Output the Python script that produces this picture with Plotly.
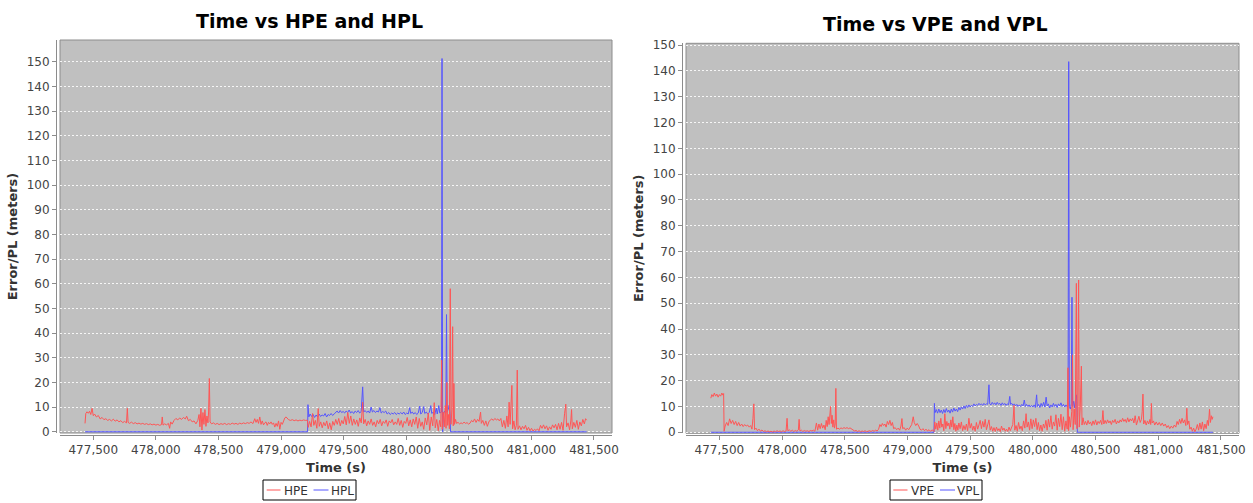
import plotly.graph_objects as go

W, H = 1253, 503

# ---------------- data ----------------
hpe_t = [477434, 477440, 477450, 477460, 477470, 477480, 477490, 477500, 477510, 477525,
         477540, 477555, 477570, 477585, 477600, 477615, 477630, 477645, 477660, 477675,
         477690, 477705, 477720, 477735, 477750, 477765, 477772, 477778, 477790, 477805,
         477820, 477835, 477850, 477865, 477880, 477895, 477910, 477925, 477940, 477955,
         477970, 477985, 478000, 478015, 478030, 478045, 478051, 478057, 478070, 478085,
         478100, 478110, 478118, 478130, 478145, 478160, 478175, 478190, 478205, 478220,
         478235, 478246, 478260, 478275, 478290, 478305, 478320, 478335, 478345, 478352,
         478360, 478368, 478376, 478384, 478392, 478400, 478408, 478416, 478421, 478427,
         478433, 478445, 478460, 478475, 478490, 478505, 478520, 478535, 478550, 478565,
         478580, 478595, 478610, 478625, 478640, 478655, 478670, 478685, 478700, 478715,
         478730, 478745, 478760, 478775, 478790, 478800, 478810, 478820, 478830, 478840,
         478850, 478860, 478870, 478880, 478890, 478900, 478910, 478920, 478930, 478940,
         478950, 478960, 478970, 478980, 478990, 479000, 479010, 479020, 479030, 479040,
         479050, 479060, 479075, 479090, 479105, 479120, 479135, 479150, 479165, 479180,
         479195, 479210, 479217, 479228, 479240, 479252, 479262, 479274, 479286, 479297,
         479305, 479317, 479329, 479341, 479353, 479365, 479377, 479389, 479401, 479413,
         479425, 479437, 479449, 479461, 479473, 479485, 479497, 479509, 479521, 479533,
         479545, 479557, 479569, 479581, 479593, 479605, 479617, 479629, 479641, 479652,
         479660, 479672, 479684, 479696, 479708, 479720, 479732, 479744, 479756, 479768,
         479780, 479792, 479804, 479816, 479828, 479840, 479852, 479864, 479876, 479888,
         479900, 479912, 479924, 479936, 479948, 479960, 479972, 479984, 479996, 480008,
         480020, 480032, 480044, 480056, 480068, 480080, 480092, 480104, 480116, 480128,
         480140, 480152, 480164, 480176, 480188, 480200, 480212, 480224, 480232, 480244,
         480256, 480266, 480276, 480283, 480288, 480296, 480304, 480312, 480318, 480325,
         480331, 480338, 480345, 480352, 480358, 480365, 480371, 480376, 480381, 480386,
         480394, 480402, 480414, 480426, 480438, 480450, 480462, 480474, 480486, 480498,
         480510, 480522, 480534, 480546, 480558, 480570, 480582, 480594, 480600, 480612,
         480624, 480636, 480648, 480660, 480672, 480684, 480696, 480708, 480720, 480732,
         480744, 480756, 480768, 480780, 480792, 480804, 480814, 480822, 480830, 480836,
         480844, 480850, 480860, 480870, 480880, 480887, 480893, 480905, 480917, 480929,
         480941, 480953, 480965, 480977, 480989, 481001, 481013, 481025, 481037, 481049,
         481061, 481073, 481085, 481097, 481109, 481121, 481133, 481145, 481157, 481169,
         481181, 481193, 481205, 481217, 481229, 481241, 481253, 481265, 481275, 481281,
         481293, 481305, 481315, 481321, 481327, 481339, 481351, 481363, 481375, 481387,
         481399, 481411, 481423, 481433, 481441]
hpe_v = [3.4, 7.4, 8.1, 7.5, 8.3, 7.0, 9.5, 6.5, 7.2, 6.0,
         6.6, 5.2, 5.8, 4.9, 5.3, 4.6, 5.0, 4.4, 5.1, 4.3,
         4.8, 4.0, 4.5, 3.7, 4.2, 3.6, 9.5, 3.8, 3.4, 3.9,
         3.3, 3.7, 3.2, 3.5, 3.1, 3.4, 3.0, 3.3, 2.9, 3.2,
         2.8, 3.1, 2.7, 3.0, 2.6, 2.9, 6.0, 2.7, 3.2, 2.8,
         3.4, 1.4, 4.0, 3.1, 4.6, 5.4, 4.8, 5.6, 5.0, 5.8,
         5.2, 6.3, 4.5, 5.0, 4.0, 4.4, 3.2, 4.6, 7.0, 2.0,
         9.5, 0.7, 7.8, 3.0, 9.0, 2.2, 6.4, 3.6, 8.0, 21.6,
         4.0, 3.2, 3.6, 3.0, 3.4, 2.9, 3.3, 3.0, 3.4, 2.9,
         3.3, 3.0, 3.5, 3.1, 3.4, 3.0, 3.5, 3.2, 3.6, 3.3,
         3.7, 3.4, 4.0, 3.3, 5.3, 3.8, 5.0, 3.4, 6.0, 3.0,
         4.4, 2.8, 3.6, 4.0, 2.6, 3.8, 3.2, 4.0, 3.0, 3.6,
         1.9, 3.4, 2.2, 4.4, 1.0, 3.8, 3.0, 4.8, 5.6, 6.0,
         5.4, 4.9, 4.6, 4.9, 4.5, 4.8, 4.4, 4.7, 4.5, 4.8,
         4.6, 4.7, 1.8, 4.2, 2.0, 7.4, 2.6, 4.6, 1.4, 9.4,
         2.2, 4.0, 1.6, 3.8, 2.4, 4.4, 1.2, 3.6, 0.8, 4.2,
         2.6, 5.0, 3.0, 5.4, 2.4, 4.6, 3.2, 6.2, 2.8, 7.8,
         3.4, 6.4, 2.6, 5.2, 3.0, 4.8, 2.2, 5.6, 3.6, 12.0,
         3.2, 5.0, 2.4, 4.4, 3.0, 5.2, 2.6, 4.0, 2.0, 4.6,
         3.2, 5.0, 2.4, 4.2, 3.4, 4.8, 2.2, 4.4, 3.6, 5.0,
         2.8, 4.0, 3.0, 5.4, 2.6, 4.6, 1.8, 4.2, 3.4, 5.8,
         2.4, 4.8, 2.0, 5.2, 3.0, 6.0, 1.4, 5.4, 2.2, 4.0,
         1.0, 5.6, 2.8, 7.6, 0.6, 6.0, 2.4, 11.8, 1.6, 5.0,
         0.4, 4.6, 2.0, 29.0, 1.0, 8.0, 2.0, 10.6, 1.4, 20.0,
         2.6, 7.0, 1.2, 58.0, 3.0, 9.0, 42.6, 2.4, 19.6, 3.0,
         5.0, 3.4, 3.8, 3.2, 3.6, 3.3, 3.9, 3.4, 3.7, 3.1,
         3.5, 4.6, 4.0, 5.2, 3.8, 5.0, 4.2, 8.0, 3.4, 4.6,
         2.6, 4.4, 2.2, 4.0, 4.8, 5.2, 4.6, 5.4, 4.8, 5.2,
         4.4, 5.4, 2.0, 4.6, 1.4, 6.4, 2.0, 12.0, 3.0, 8.0,
         18.8, 1.2, 4.4, 0.8, 2.6, 25.0, 1.0, 2.4, 0.8, 2.2,
         1.2, 2.6, 0.6, 1.8, 0.4, 1.4, 0.3, 1.0, 0.5, 1.2,
         0.4, 2.6, 1.4, 2.8, 1.2, 2.4, 0.6, 2.0, 1.0, 2.8,
         1.6, 3.0, 0.8, 3.4, 1.0, 3.8, 0.6, 7.3, 11.2, 2.0,
         3.6, 0.8, 4.4, 9.0, 1.2, 3.8, 1.8, 4.6, 1.0, 4.0,
         2.4, 5.0, 3.2, 5.3, 4.7]

hpl_t = [477434, 479212, 479215, 479222, 479232, 479244, 479256, 479268, 479280, 479292,
         479304, 479316, 479328, 479340, 479352, 479364, 479376, 479388, 479400, 479412,
         479424, 479436, 479448, 479460, 479472, 479484, 479496, 479508, 479520, 479532,
         479544, 479556, 479568, 479580, 479592, 479604, 479616, 479628, 479640, 479652,
         479660, 479672, 479684, 479696, 479708, 479720, 479730, 479742, 479754, 479766,
         479778, 479790, 479800, 479812, 479824, 479836, 479848, 479860, 479872, 479884,
         479896, 479908, 479920, 479932, 479944, 479956, 479968, 479980, 479992, 480004,
         480016, 480028, 480036, 480048, 480060, 480072, 480084, 480096, 480108, 480116,
         480128, 480140, 480148, 480160, 480172, 480184, 480196, 480204, 480216, 480228,
         480240, 480248, 480260, 480268, 480278, 480282, 480286, 480291, 480296, 480306,
         480316, 480322, 480327, 480336, 480344, 480350, 480354, 481441]
hpl_v = [0.0, 0.0, 11.0, 6.0, 7.2, 6.2, 7.0, 5.8, 6.8, 6.0,
         7.2, 6.2, 6.8, 6.4, 7.4, 6.0, 7.0, 6.6, 7.4, 6.6,
         7.2, 7.8, 8.4, 7.6, 8.6, 7.8, 8.2, 7.6, 8.4, 7.8,
         8.8, 7.6, 8.2, 7.4, 8.4, 7.8, 8.6, 7.6, 8.2, 18.2,
         8.0, 8.6, 7.8, 8.4, 7.6, 10.0, 8.0, 8.6, 7.8, 8.4,
         8.0, 9.8, 7.6, 8.2, 7.8, 8.4, 7.2, 7.8, 7.0, 7.6,
         7.2, 7.8, 7.0, 7.6, 7.2, 7.8, 7.2, 8.0, 7.0, 7.6,
         7.2, 9.8, 7.4, 8.0, 7.2, 7.8, 7.0, 7.6, 10.4, 7.2,
         7.8, 10.2, 7.4, 8.0, 7.2, 7.8, 10.6, 7.4, 8.0, 7.0,
         9.6, 7.2, 10.6, 7.6, 8.0, 8.0, 151.3, 0.0, 7.0, 8.4,
         7.6, 47.5, 8.0, 9.2, 10.8, 7.4, 0.0, 0.0]

vpe_t = [477432, 477440, 477450, 477460, 477470, 477480, 477490, 477500, 477510, 477520,
         477528, 477534, 477538, 477546, 477558, 477570, 477582, 477594, 477606, 477618,
         477630, 477642, 477654, 477666, 477678, 477690, 477702, 477714, 477726, 477738,
         477750, 477760, 477768, 477775, 477781, 477792, 477804, 477816, 477828, 477840,
         477852, 477864, 477876, 477888, 477900, 477912, 477924, 477936, 477948, 477960,
         477972, 477984, 477996, 478008, 478020, 478032, 478040, 478046, 478058, 478070,
         478082, 478094, 478106, 478118, 478130, 478136, 478142, 478154, 478166, 478178,
         478190, 478202, 478214, 478226, 478238, 478250, 478262, 478274, 478284, 478294,
         478304, 478314, 478324, 478334, 478344, 478352, 478360, 478368, 478375, 478381,
         478387, 478393, 478399, 478405, 478412, 478418, 478424, 478429, 478434, 478446,
         478458, 478470, 478482, 478494, 478506, 478518, 478530, 478542, 478554, 478566,
         478578, 478590, 478602, 478614, 478626, 478638, 478650, 478662, 478674, 478686,
         478698, 478710, 478722, 478734, 478746, 478758, 478770, 478780, 478790, 478800,
         478810, 478820, 478830, 478840, 478850, 478860, 478870, 478880, 478890, 478902,
         478914, 478926, 478938, 478948, 478956, 478962, 478974, 478986, 478998, 479010,
         479022, 479034, 479046, 479054, 479066, 479078, 479090, 479100, 479112, 479124,
         479136, 479148, 479160, 479172, 479184, 479196, 479208, 479212, 479218, 479226,
         479234, 479242, 479250, 479258, 479266, 479274, 479282, 479290, 479298, 479306,
         479314, 479322, 479330, 479338, 479346, 479354, 479362, 479370, 479378, 479386,
         479394, 479402, 479410, 479420, 479430, 479440, 479450, 479460, 479470, 479480,
         479490, 479500, 479510, 479520, 479530, 479540, 479550, 479560, 479570, 479580,
         479590, 479600, 479610, 479620, 479630, 479640, 479650, 479660, 479670, 479680,
         479690, 479700, 479710, 479720, 479730, 479740, 479750, 479760, 479770, 479780,
         479790, 479800, 479810, 479820, 479830, 479840, 479850, 479856, 479866, 479876,
         479886, 479896, 479906, 479916, 479926, 479936, 479946, 479954, 479964, 479974,
         479984, 479994, 480004, 480014, 480024, 480034, 480044, 480054, 480064, 480074,
         480084, 480094, 480104, 480114, 480124, 480134, 480144, 480154, 480164, 480174,
         480184, 480194, 480204, 480214, 480224, 480234, 480244, 480254, 480264, 480274,
         480280, 480285, 480292, 480300, 480310, 480316, 480321, 480330, 480338, 480347,
         480352, 480358, 480365, 480370, 480378, 480387, 480392, 480400, 480410, 480420,
         480430, 480440, 480450, 480460, 480470, 480480, 480490, 480500, 480510, 480520,
         480530, 480540, 480550, 480559, 480566, 480576, 480586, 480596, 480606, 480616,
         480626, 480636, 480646, 480656, 480666, 480676, 480686, 480696, 480706, 480716,
         480726, 480736, 480746, 480756, 480766, 480776, 480786, 480796, 480806, 480816,
         480826, 480836, 480846, 480856, 480866, 480872, 480878, 480884, 480894, 480904,
         480914, 480924, 480934, 480940, 480945, 480951, 480962, 480972, 480984, 480996,
         481008, 481020, 481032, 481044, 481056, 481068, 481080, 481092, 481104, 481116,
         481128, 481140, 481150, 481160, 481170, 481180, 481190, 481200, 481210, 481220,
         481228, 481234, 481244, 481252, 481262, 481272, 481282, 481292, 481302, 481312,
         481322, 481332, 481342, 481352, 481362, 481372, 481382, 481392, 481400, 481409,
         481416, 481424, 481430, 481436]
vpe_v = [13.2, 14.6, 13.8, 15.2, 14.0, 14.8, 13.6, 14.6, 14.0, 15.2,
         14.4, 15.0, 0.4, 2.4, 3.8, 2.6, 5.2, 3.4, 4.6, 3.0,
         4.2, 2.6, 3.8, 2.4, 3.2, 2.2, 3.0, 2.4, 2.8, 2.0,
         2.6, 1.2, 5.4, 11.0, 1.0, 1.6, 0.6, 1.2, 0.4, 0.9,
         0.3, 0.6, 0.2, 0.5, 0.2, 0.4, 0.1, 0.5, 0.2, 0.6,
         0.3, 0.5, 0.2, 0.6, 0.3, 0.5, 5.4, 0.6, 0.9, 0.4,
         0.8, 0.3, 0.7, 0.4, 0.9, 5.0, 0.5, 0.8, 0.3, 0.7,
         0.4, 0.6, 0.3, 0.7, 0.5, 0.8, 0.4, 3.6, 0.8, 3.2,
         1.4, 3.4, 1.6, 2.8, 1.0, 4.6, 2.2, 6.0, 3.0, 7.4,
         10.0, 3.4, 6.6, 2.0, 4.8, 1.6, 3.2, 17.0, 1.2, 1.6,
         1.2, 1.7, 1.4, 1.8, 1.5, 1.8, 1.4, 1.7, 1.2, 1.0,
         0.5, 0.7, 0.3, 0.6, 0.2, 0.5, 0.3, 0.6, 0.2, 0.4,
         0.6, 0.3, 0.7, 0.4, 0.8, 0.5, 1.2, 3.0, 2.2, 3.4,
         2.6, 3.2, 2.0, 4.2, 3.0, 4.6, 2.6, 3.8, 1.4, 1.8,
         1.0, 1.6, 0.8, 2.4, 5.3, 1.4, 1.8, 0.8, 1.6, 1.0,
         2.2, 3.0, 6.0, 3.8, 2.6, 3.4, 2.4, 1.2, 0.8, 1.4,
         0.6, 1.2, 0.5, 1.0, 0.4, 0.9, 0.6, 0.3, 4.0, 1.2,
         3.6, 0.8, 4.4, 1.6, 5.4, 2.0, 3.2, 0.6, 7.2, 1.4,
         4.2, 2.4, 3.6, 1.2, 4.8, 2.0, 6.0, 1.0, 3.4, 0.4,
         2.8, 0.8, 3.6, 1.4, 4.0, 0.6, 2.6, 1.0, 3.2, 0.6,
         5.4, 1.6, 3.4, 0.8, 2.4, 0.4, 3.8, 1.2, 2.8, 4.6,
         1.4, 4.2, 2.0, 5.0, 1.0, 3.6, 4.8, 0.8, 2.2, 0.4,
         1.8, 0.3, 2.0, 0.6, 1.4, 0.2, 2.4, 0.8, 1.6, 0.4,
         1.2, 0.3, 2.0, 0.6, 1.8, 3.0, 10.4, 0.8, 2.6, 0.4,
         3.8, 1.2, 2.4, 0.6, 4.4, 1.6, 7.2, 2.0, 4.0, 0.8,
         5.2, 1.4, 4.8, 2.2, 5.4, 1.0, 3.8, 0.6, 2.8, 0.4,
         3.2, 1.6, 4.6, 0.8, 5.0, 2.0, 6.4, 1.2, 4.0, 2.4,
         6.8, 0.8, 5.4, 2.2, 7.0, 1.0, 6.0, 0.4, 4.4, 1.2,
         25.0, 0.6, 6.0, 2.0, 8.0, 30.0, 1.0, 9.0, 3.0, 57.7,
         1.4, 7.0, 59.0, 2.0, 9.6, 25.6, 2.8, 5.6, 3.0, 4.2,
         2.8, 4.6, 3.2, 4.0, 2.6, 4.4, 3.0, 4.8, 2.8, 4.2,
         3.4, 4.6, 3.0, 8.4, 3.2, 4.6, 3.4, 4.8, 3.6, 4.4,
         3.0, 4.6, 3.8, 5.0, 3.2, 4.4, 3.6, 4.8, 4.0, 5.4,
         4.2, 5.0, 3.8, 5.6, 4.0, 5.2, 4.4, 5.4, 3.6, 6.4,
         2.8, 4.6, 6.2, 3.8, 5.0, 8.0, 14.8, 3.2, 4.6, 2.8,
         4.4, 3.2, 5.0, 3.0, 11.2, 3.6, 4.4, 2.8, 4.0, 2.8,
         3.8, 2.6, 3.6, 2.4, 3.2, 1.8, 2.6, 1.4, 2.4, 1.6,
         2.8, 2.0, 4.2, 3.0, 5.0, 3.4, 5.4, 3.6, 4.8, 2.6,
         9.3, 3.0, 4.4, 1.2, 2.0, 0.4, 1.6, 0.2, 1.2, 3.0,
         0.8, 3.6, 1.2, 4.0, 0.6, 3.2, 1.4, 4.6, 2.6, 8.9,
         3.8, 6.4, 5.0, 6.0]

vpl_t = [477432, 479212, 479215, 479220, 479230, 479240, 479250, 479260, 479270, 479280,
         479290, 479300, 479310, 479320, 479330, 479340, 479350, 479360, 479370, 479380,
         479390, 479400, 479410, 479420, 479430, 479440, 479450, 479460, 479470, 479480,
         479490, 479500, 479510, 479520, 479530, 479540, 479550, 479560, 479570, 479580,
         479590, 479600, 479610, 479620, 479630, 479640, 479650, 479656, 479666, 479676,
         479686, 479696, 479706, 479716, 479726, 479736, 479746, 479756, 479766, 479776,
         479786, 479796, 479806, 479816, 479822, 479832, 479842, 479852, 479862, 479872,
         479882, 479892, 479902, 479912, 479922, 479932, 479940, 479950, 479960, 479970,
         479980, 479990, 480000, 480010, 480020, 480030, 480036, 480046, 480056, 480066,
         480076, 480086, 480096, 480106, 480114, 480124, 480134, 480144, 480154, 480164,
         480174, 480184, 480194, 480204, 480214, 480224, 480234, 480244, 480254, 480264,
         480274, 480281, 480286, 480291, 480299, 480306, 480312, 480317, 480326, 480334,
         480342, 480348, 480352, 480355, 481436]
vpl_v = [0.0, 0.0, 11.2, 7.6, 8.8, 7.4, 9.0, 7.6, 8.6, 7.3,
         8.8, 7.6, 9.2, 7.8, 8.6, 7.4, 9.0, 7.8, 9.4, 8.2,
         9.0, 8.0, 9.6, 8.6, 9.8, 9.0, 10.2, 9.2, 10.4, 9.6,
         10.6, 9.8, 10.4, 10.0, 11.0, 10.2, 10.8, 10.4, 11.2, 10.6,
         11.0, 10.4, 11.2, 10.6, 11.0, 10.8, 18.4, 11.0, 10.6, 11.6,
         10.8, 11.4, 10.6, 11.6, 10.8, 11.2, 10.4, 11.4, 10.6, 11.2,
         10.4, 11.0, 10.6, 13.9, 10.8, 11.2, 10.4, 11.0, 10.2, 10.8,
         10.0, 10.6, 10.0, 10.8, 10.2, 12.5, 10.0, 10.8, 10.0, 10.6,
         9.8, 10.4, 9.8, 10.6, 9.6, 14.5, 10.0, 10.8, 9.6, 11.2,
         10.0, 11.6, 9.8, 13.6, 10.2, 11.0, 9.4, 10.6, 9.8, 11.2,
         10.0, 10.8, 9.6, 11.0, 10.2, 11.4, 10.0, 10.8, 9.8, 10.6,
         9.8, 10.4, 143.6, 10.0, 9.0, 11.0, 52.3, 10.0, 12.0, 9.4,
         12.6, 14.5, 9.0, 0.0, 0.0]

time_ticks = [477500, 478000, 478500, 479000, 479500, 480000, 480500, 481000, 481500]
err_ticks = [0, 10, 20, 30, 40, 50, 60, 70, 80, 90, 100, 110, 120, 130, 140, 150]

titles = ["Time vs HPE and HPL", "Time vs VPE and VPL"]
x_title = "Time (s)"
y_title = "Error/PL (meters)"

RED = "#FF5555"
BLUE = "#5555FF"
FONT = "DejaVu Sans"


def px(x):
    return x / W


def py(y):
    return 1 - y / H


fig = go.Figure()
fig.add_trace(go.Scatter(x=hpl_t, y=hpl_v, name="HPL", mode="lines",
                         line=dict(color=BLUE, width=1), xaxis="x", yaxis="y"))
fig.add_trace(go.Scatter(x=hpe_t, y=hpe_v, name="HPE", mode="lines",
                         line=dict(color=RED, width=1), xaxis="x", yaxis="y"))
fig.add_trace(go.Scatter(x=vpl_t, y=vpl_v, name="VPL", mode="lines",
                         line=dict(color=BLUE, width=1), xaxis="x2", yaxis="y2"))
fig.add_trace(go.Scatter(x=vpe_t, y=vpe_v, name="VPE", mode="lines",
                         line=dict(color=RED, width=1), xaxis="x2", yaxis="y2"))

tickfont = dict(family=FONT, size=12, color="#444444")
titlefont = dict(family=FONT, size=13, color="#333333", weight="bold")


def xax(dom, ypos):
    return dict(domain=dom, range=[477234, 481644], anchor="free", position=ypos,
                showline=True, linecolor="#8c8c8c", linewidth=1,
                ticks="outside", ticklen=4, tickcolor="#8c8c8c",
                tickvals=time_ticks, tickformat=",d", tickfont=tickfont,
                showgrid=False, zeroline=False, automargin=False, fixedrange=True,
                title=dict(text=x_title, font=titlefont, standoff=6))


def yax(dom, rng, xpos):
    return dict(domain=dom, range=rng, anchor="free", position=xpos,
                showline=True, linecolor="#8c8c8c", linewidth=1,
                ticks="outside", ticklen=4, tickcolor="#8c8c8c",
                tickvals=err_ticks, tickfont=tickfont,
                showgrid=True, gridcolor="rgba(255,255,255,0.85)", gridwidth=1,
                griddash="2px,2px", zeroline=False, automargin=False, fixedrange=True,
                title=dict(text=y_title, font=titlefont, standoff=5))


shapes = []
# plot area borders
for xr, yr in (("x domain", "y domain"), ("x2 domain", "y2 domain")):
    shapes.append(dict(type="rect", xref=xr, yref=yr, x0=0, x1=1, y0=0, y1=1,
                       line=dict(color="#8c8c8c", width=1), layer="below"))

annotations = [
    dict(text=titles[0], x=px(309), y=py(20.5), xref="paper", yref="paper",
         xanchor="center", yanchor="middle", showarrow=False,
         font=dict(family=FONT, size=19, color="#000000", weight="bold")),
    dict(text=titles[1], x=px(935), y=py(24), xref="paper", yref="paper",
         xanchor="center", yanchor="middle", showarrow=False,
         font=dict(family=FONT, size=19, color="#000000", weight="bold")),
]

# legends (box, line samples, labels)
legend_specs = [
    (263, 356, [(266.7, 280.5, RED, "HPE", 282.5), (313.5, 328.5, BLUE, "HPL", 330.0)]),
    (890, 982, [(893.3, 907.5, RED, "VPE", 909.5), (940.0, 955.0, BLUE, "VPL", 956.0)]),
]
for bx0, bx1, items in legend_specs:
    shapes.append(dict(type="rect", xref="paper", yref="paper",
                       x0=px(bx0), x1=px(bx1), y0=py(500), y1=py(480),
                       line=dict(color="#000000", width=1), fillcolor="white"))
    for lx0, lx1, col, label, tx in items:
        shapes.append(dict(type="line", xref="paper", yref="paper",
                           x0=px(lx0), x1=px(lx1), y0=py(490), y1=py(490),
                           line=dict(color=col, width=1)))
        annotations.append(dict(text=label, x=px(tx), y=py(490.5), xref="paper",
                                yref="paper", xanchor="left", yanchor="middle",
                                showarrow=False, borderpad=0,
                                font=dict(family=FONT, size=12, color="#333333")))

fig.update_layout(
    template="none",
    width=W, height=H,
    margin=dict(l=0, r=0, t=0, b=0),
    paper_bgcolor="white",
    plot_bgcolor="#C0C0C0",
    showlegend=False,
    xaxis=xax([px(60), px(612)], py(434.5)),
    yaxis=yax([py(433), py(40)], [-0.5, 158.8], px(56)),
    xaxis2=xax([px(686), px(1239)], py(435)),
    yaxis2=yax([py(433.3), py(43.3)], [-0.4, 150.7], px(682)),
    shapes=shapes,
    annotations=annotations,
    font=dict(family=FONT),
)

fig.write_html("out.html", config={"displayModeBar": False},
               post_script="document.body.style.margin='0';")
